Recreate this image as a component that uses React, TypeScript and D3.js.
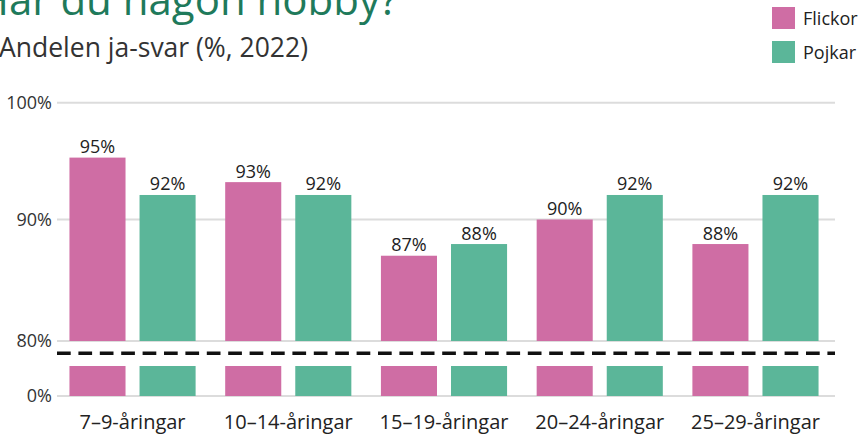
import * as d3 from "d3";

const CATEGORIES = ["7–9-åringar", "10–14-åringar", "15–19-åringar", "20–24-åringar", "25–29-åringar"];
const SERIES = ["Flickor", "Pojkar"];
const FLICKOR = [95.3, 93.2, 86.9, 90.0, 87.9];
const POJKAR = [92.1, 92.1, 87.9, 92.1, 92.1];
const LABELS_F = ["95%", "93%", "87%", "90%", "88%"];
const LABELS_P = ["92%", "92%", "88%", "92%", "92%"];
const TOP_TICKS = [100, 90];
const COLORS = ["#cf6da4", "#5bb699"];

const W = 865;
const H = 436;
const FONT = "'Open Sans', sans-serif";
const PLOT = { left: 57, right: 835, top: 102.7, breakTop: 341, dash: 353.3, stubTop: 366, bottom: 396 };

export default function App() {
  const x0 = d3.scaleBand().domain(CATEGORIES).range([PLOT.left, 831]).paddingInner(0.19).paddingOuter(0.08);
  const x1 = d3.scaleBand().domain(SERIES).range([0, x0.bandwidth()]).paddingInner(0.2);
  // upper panel (broken axis)
  const yTop = d3.scaleLinear().domain([79.6, 100]).range([PLOT.breakTop, PLOT.top]);
  // lower panel stub, clamped
  const yLow = d3.scaleLinear().domain([0, 5]).range([PLOT.bottom, PLOT.stubTop]).clamp(true);

  const rows = CATEGORIES.map((c, i) => ({
    cat: c,
    vals: [
      { s: SERIES[0], v: FLICKOR[i], label: LABELS_F[i] },
      { s: SERIES[1], v: POJKAR[i], label: LABELS_P[i] },
    ],
  }));

  return (
    <svg width={W} height={H} style={{ position: "absolute", left: 0, top: 0, fontFamily: FONT }}>
      <text x={-22} y={15} fontSize={42} fill="#1f7a5b">Har du någon hobby?</text>
      <text x={-1} y={57} fontSize={26.5} fill="#333">Andelen ja-svar (%, 2022)</text>

      {SERIES.map((s, i) => (
        <g key={s} transform={`translate(772,${7 + i * 34})`}>
          <rect width={23} height={22} fill={COLORS[i]} />
          <text x={31} y={18} fontSize={18} fill="#222">{s}</text>
        </g>
      ))}

      {TOP_TICKS.map((t) => (
        <g key={t}>
          <line x1={PLOT.left} x2={PLOT.right} y1={yTop(t)} y2={yTop(t)} stroke="#dcdcdc" strokeWidth={2} />
          <text x={52} y={yTop(t) + 6} textAnchor="end" fontSize={18} fill="#333">{t}%</text>
        </g>
      ))}
      <line x1={PLOT.left} x2={PLOT.right} y1={PLOT.breakTop} y2={PLOT.breakTop} stroke="#dcdcdc" strokeWidth={2} />
      <text x={52} y={PLOT.breakTop + 6} textAnchor="end" fontSize={18} fill="#333">80%</text>
      <line x1={PLOT.left} x2={PLOT.right} y1={yLow(0)} y2={yLow(0)} stroke="#dcdcdc" strokeWidth={2} />
      <text x={52} y={yLow(0) + 6} textAnchor="end" fontSize={18} fill="#333">0%</text>

      {rows.map((r) => (
        <g key={r.cat} transform={`translate(${x0(r.cat)},0)`}>
          {r.vals.map((d, j) => (
            <g key={d.s}>
              <rect x={x1(d.s)} y={yTop(d.v)} width={x1.bandwidth()} height={yTop.range()[0] - yTop(d.v)} fill={COLORS[j]} />
              <rect x={x1(d.s)} y={yLow(d.v)} width={x1.bandwidth()} height={yLow(0) - yLow(d.v)} fill={COLORS[j]} />
              <text x={(x1(d.s) ?? 0) + x1.bandwidth() / 2} y={yTop(d.v) - 4.5} textAnchor="middle" fontSize={18} fill="#222">
                {d.label}
              </text>
            </g>
          ))}
          <text x={x0.bandwidth() / 2} y={429} textAnchor="middle" fontSize={20} fill="#222">{r.cat}</text>
        </g>
      ))}

      <line x1={PLOT.left} x2={PLOT.right} y1={PLOT.dash} y2={PLOT.dash} stroke="#111" strokeWidth={3.5} strokeDasharray="13.7 7.7" />
    </svg>
  );
}
